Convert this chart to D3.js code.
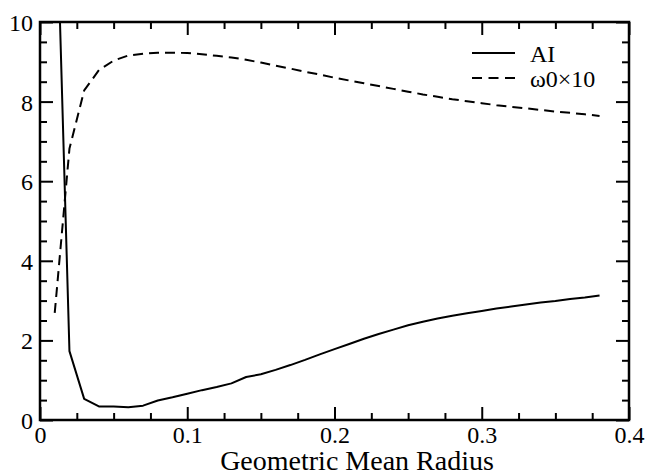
<!DOCTYPE html>
<html>
<head>
<meta charset="utf-8">
<script src="https://cdn.jsdelivr.net/npm/d3@7"></script>
<style>
  html, body { margin: 0; padding: 0; background: #fff; }
  svg { display: block; }
  svg text { font-family: "Liberation Serif", "DejaVu Serif", serif; fill: #000; }
</style>
</head>
<body>
<svg id="chart" width="652" height="474"></svg>
<script>
// ---- data ----
const radius = [0.01,0.02,0.03,0.04,0.05,0.06,0.07,0.08,0.09,0.10,
                0.11,0.12,0.13,0.14,0.15,0.16,0.17,0.18,0.19,0.20,
                0.21,0.22,0.23,0.24,0.25,0.26,0.27,0.28,0.29,0.30,
                0.31,0.32,0.33,0.34,0.35,0.36,0.37,0.38];
const aiValues = [14.6,1.73,0.53,0.34,0.34,0.32,0.36,0.49,0.57,0.66,
                  0.75,0.83,0.92,1.08,1.15,1.26,1.38,1.51,1.65,1.78,
                  1.91,2.04,2.16,2.27,2.38,2.47,2.55,2.62,2.68,2.74,
                  2.80,2.85,2.90,2.95,2.99,3.04,3.08,3.13];
const omegaValues = [2.69,6.82,8.28,8.79,9.03,9.16,9.20,9.23,9.23,9.22,
                     9.19,9.15,9.11,9.05,8.98,8.90,8.83,8.75,8.68,8.60,
                     8.53,8.46,8.39,8.32,8.25,8.18,8.12,8.06,8.01,7.96,
                     7.91,7.87,7.83,7.79,7.75,7.72,7.68,7.64];
const xMajorTicks = [0,0.1,0.2,0.3,0.4];
const xTickLabels = ["0","0.1","0.2","0.3","0.4"];
const xMinorTicks = [0.025,0.05,0.075,0.125,0.15,0.175,0.225,0.25,0.275,0.325,0.35,0.375];
const yMajorTicks = [0,2,4,6,8,10];
const yTickLabels = ["0","2","4","6","8","10"];
const yMinorTicks = [0.5,1,1.5,2.5,3,3.5,4.5,5,5.5,6.5,7,7.5,8.5,9,9.5];
const seriesNames = ["AI","\u03C90\u00D710"];
const xTitle = "Geometric Mean Radius";

// ---- layout ----
const L = 40, R = 629, T = 22, B = 420;
const svg = d3.select("#chart");
const x = d3.scaleLinear().domain([0,0.4]).range([L,R]);
const y = d3.scaleLinear().domain([0,10]).range([B,T]);

svg.append("defs").append("clipPath").attr("id","clip")
  .append("rect").attr("x",L).attr("y",T).attr("width",R-L).attr("height",B-T);

const line = d3.line().x((d,i)=>x(radius[i])).y(d=>y(d));
const g = svg.append("g").attr("clip-path","url(#clip)");
g.append("path").datum(aiValues).attr("d",line)
  .attr("fill","none").attr("stroke","#000").attr("stroke-width",2).attr("stroke-linejoin","round");
g.append("path").datum(omegaValues).attr("d",line)
  .attr("fill","none").attr("stroke","#000").attr("stroke-width",2).attr("stroke-dasharray","10,6");

// ---- axes ----
function styleAxis(sel){
  sel.attr("font-family",null).attr("font-size",null);
  sel.select(".domain").remove();
  sel.selectAll(".tick line").attr("stroke","#000").attr("stroke-width",2);
}
const maj = 13, mnr = 7;
// bottom
svg.append("g").attr("transform",`translate(0,${B})`)
  .call(d3.axisBottom(x).tickValues(xMajorTicks).tickSize(-maj).tickPadding(0).tickFormat((d,i)=>xTickLabels[i]))
  .call(styleAxis)
  .call(s=>s.selectAll("text").style("font-size","24px").attr("y",23).attr("dy",0));
svg.append("g").attr("transform",`translate(0,${B})`)
  .call(d3.axisBottom(x).tickValues(xMinorTicks).tickSize(-mnr).tickFormat(""))
  .call(styleAxis);
// top
svg.append("g").attr("transform",`translate(0,${T})`)
  .call(d3.axisTop(x).tickValues(xMajorTicks).tickSize(-maj).tickFormat(""))
  .call(styleAxis);
svg.append("g").attr("transform",`translate(0,${T})`)
  .call(d3.axisTop(x).tickValues(xMinorTicks).tickSize(-mnr).tickFormat(""))
  .call(styleAxis);
// left
svg.append("g").attr("transform",`translate(${L},0)`)
  .call(d3.axisLeft(y).tickValues(yMajorTicks).tickSize(-maj).tickPadding(7).tickFormat((d,i)=>yTickLabels[i]))
  .call(styleAxis)
  .call(s=>s.selectAll("text").style("font-size","24px").attr("x",-7).attr("dy","0.35em"));
svg.append("g").attr("transform",`translate(${L},0)`)
  .call(d3.axisLeft(y).tickValues(yMinorTicks).tickSize(-mnr).tickFormat(""))
  .call(styleAxis);
// right
svg.append("g").attr("transform",`translate(${R},0)`)
  .call(d3.axisRight(y).tickValues(yMajorTicks).tickSize(-maj).tickFormat(""))
  .call(styleAxis);
svg.append("g").attr("transform",`translate(${R},0)`)
  .call(d3.axisRight(y).tickValues(yMinorTicks).tickSize(-mnr).tickFormat(""))
  .call(styleAxis);

// frame
svg.append("rect").attr("x",L).attr("y",T).attr("width",R-L).attr("height",B-T)
  .attr("fill","none").attr("stroke","#000").attr("stroke-width",2.5);

// x title
svg.append("text").attr("x",357).attr("y",470).attr("text-anchor","middle")
  .style("font-size","28px").text(xTitle);

// legend
const leg = svg.append("g");
const legRows = [{y:53, dash:null},{y:78, dash:"10,6.5"}];
legRows.forEach((r,i)=>{
  leg.append("line").attr("x1",472).attr("x2",515).attr("y1",r.y).attr("y2",r.y)
    .attr("stroke","#000").attr("stroke-width",2).attr("stroke-dasharray",r.dash);
  leg.append("text").attr("x",530).attr("y",r.y+8.5).style("font-size","24px").text(seriesNames[i]);
});
</script>
</body>
</html>
